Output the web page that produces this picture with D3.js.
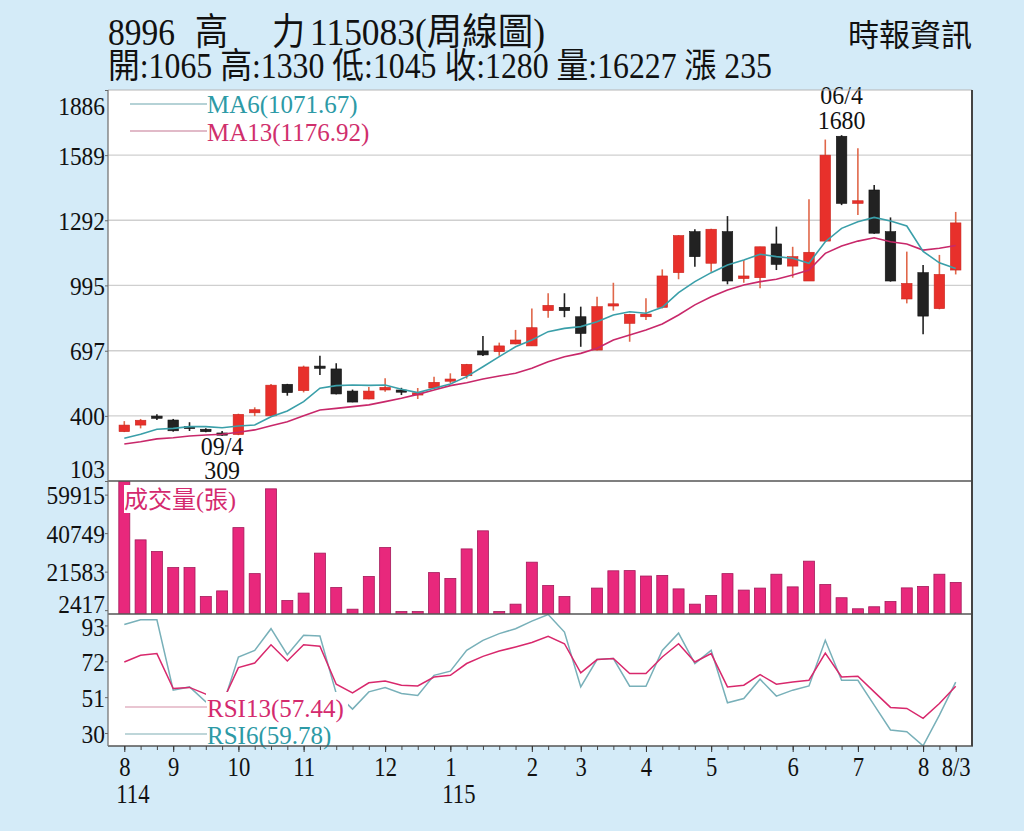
<!DOCTYPE html>
<html>
<head>
<meta charset="utf-8">
<script src="https://cdn.jsdelivr.net/npm/d3@7"></script>
<style>
  html, body { margin: 0; padding: 0; background: #d4ebf8; }
  svg { display: block; }
  text { font-family: "Liberation Serif", "Noto Sans CJK TC", serif; }
</style>
</head>
<body>
<svg id="chart" width="1024" height="831"></svg>
<script>
// weekly OHLC, 114/08 .. 115/08/3
const opens  = [328,358,399,381,352,339,322,315,414,400,544,515,627,614,513,477,518,518,500,527,563,583,696,693,728,719,880,895,852,700,905,822,852,895,1053,1240,1096,1240,1026,1030,1184,1083,1015,1197,1675,1369,1430,1240,933,1053,889,1065];
const highs  = [376,386,407,386,371,343,331,410,439,545,546,629,674,640,520,532,571,528,527,578,594,637,764,734,792,890,959,959,898,943,1007,865,936,1068,1224,1251,1253,1311,1111,1171,1263,1171,1388,1660,1680,1620,1453,1305,1149,1088,1134,1330];
const lows   = [326,343,381,328,331,325,309,312,399,399,492,507,586,498,462,476,510,495,477,522,549,570,673,674,726,719,848,850,715,698,880,738,837,890,1023,1080,1057,1000,1007,982,1065,1030,1015,1195,1361,1316,1230,1012,913,772,886,1045];
const closes = [358,380,390,332,350,328,313,407,428,540,506,623,622,500,463,513,530,512,505,553,568,635,678,719,746,802,904,880,776,898,911,863,864,1038,1222,1126,1251,1015,1038,1171,1091,1126,1146,1589,1369,1381,1233,1015,1004,855,1045,1280];

const ma6  = [298,316,339,343,351,351,346,354,358,396,422,465,526,538,541,539,541,521,506,526,545,579,624,670,715,746,784,799,807,829,860,875,868,895,962,1012,1053,1088,1111,1137,1126,1119,1096,1194,1255,1285,1305,1289,1266,1150,1098,1071.67];
const ma13 = [272,282,295,300,308,313,316,325,336,355,373,401,427,434,442,450,465,480,498,518,538,551,568,582,594,617,647,670,685,708,746,769,792,819,860,906,943,974,997,1012,1023,1042,1065,1141,1175,1197,1212,1194,1184,1156,1164,1176.92];

const volumes = [66700,37400,31600,23600,23600,9200,12000,43500,20600,62800,7200,10900,30800,13700,2900,19200,33600,1700,1700,21100,18200,32900,41900,1700,5400,26300,14700,9200,0,13400,22000,22100,19400,19700,13000,5400,9700,20600,12400,13400,20300,14000,26800,15200,8600,3100,4100,6700,13500,14200,20300,16227];

const rsi6  = [93.6,96.3,96.3,55.1,57.0,48.3,45.0,74.5,78.4,91.1,75.9,87.2,86.8,53.2,44.0,54.1,56.7,53.2,52.0,63.8,66.2,78.4,84.3,88.2,91.1,95.5,99.4,89.1,57.0,73.0,73.6,57.4,57.4,78.4,88.5,70.7,78.4,47.7,50.2,61.5,51.6,55.1,57.6,84.3,60.9,60.9,46.3,31.8,30.8,22.5,40.5,59.78];
const rsi13 = [71.6,75.5,76.5,56.1,56.7,52.8,47.7,68.3,71.0,81.7,72.2,81.7,80.8,58.6,53.5,59.4,60.5,58.0,57.6,62.8,63.8,70.7,74.9,78.0,80.4,83.0,86.6,82.3,65.2,73.0,73.6,64.8,64.8,74.5,82.3,71.6,76.5,57.0,58.0,64.2,58.6,59.9,60.9,76.8,62.8,63.2,54.1,45.0,44.4,38.6,47.3,57.44];

const priceTicks = [103,400,697,995,1292,1589,1886];
const volumeTicks = [2417,21583,40749,59915];
const rsiTicks = [30,51,72,93];
const monthIdx = [0,3,7,11,16,20,25,28,32,36,41,45,49,51];
const monthLabels = ['8','9','10','11','12','1','2','3','4','5','6','7','8','8/3'];
const yearIdx = [0,20];
const yearLabels = ['114','115'];

const left = 108, right = 972;
const priceTop = 90, priceBottom = 481, volBottom = 614, rsiBottom = 746;

const red = '#e8302b', black = '#222', volColor = '#e8287c';
const teal = '#3a9fa9', magenta = '#c8286a';

const svg = d3.select('#chart');
const idx = closes.map((_, i) => i);

const x = d3.scalePoint().domain(idx).range([left, right]).padding(1);
const yPrice = d3.scaleLinear().domain([103, 1886]).range([priceBottom, priceTop]);
const yVol = d3.scaleLinear().domain([0, d3.max(volumes)]).range([volBottom + 1, priceBottom]);
const yRsi = d3.scaleLinear().domain([22.4, 99.7]).range([rsiBottom, volBottom]);

function label(parent, px, py, str, size, anchor, fill, sx = 0.86) {
  return parent.append('text')
    .attr('transform', `translate(${px},${py}) scale(${sx},1)`)
    .attr('text-anchor', anchor)
    .attr('font-size', size)
    .attr('fill', fill)
    .text(str);
}

// header, first line in pieces so the wide gaps of the name survive
const title = [
  { t: '8996', x0: 108, w: 67 },
  { t: '高', x0: 195, w: 33 },
  { t: '力', x0: 272, w: 33 },
  { t: '115083(周線圖)', x0: 310, w: 235 }
];
title.forEach((p) => {
  svg.append('text').attr('x', p.x0).attr('y', 45).attr('font-size', 37)
    .attr('textLength', p.w).attr('lengthAdjust', 'spacingAndGlyphs').attr('fill', '#111')
    .text(p.t);
});
svg.append('text').attr('x', 108).attr('y', 78).attr('font-size', 35)
  .attr('textLength', 664).attr('lengthAdjust', 'spacingAndGlyphs').attr('fill', '#111')
  .text('開:1065 高:1330 低:1045 收:1280 量:16227 漲 235');
svg.append('text').attr('x', 972).attr('y', 46).attr('font-size', 31).attr('text-anchor', 'end')
  .attr('font-family', '"Noto Sans CJK TC"').attr('fill', '#111')
  .text('時報資訊');

// panel
svg.append('rect').attr('x', left).attr('y', priceTop).attr('width', right - left)
  .attr('height', rsiBottom - priceTop).attr('fill', '#fff');

const defs = svg.append('defs');
defs.append('clipPath').attr('id', 'clipPrice').append('rect')
  .attr('x', left).attr('y', priceTop).attr('width', right - left).attr('height', priceBottom - priceTop);
defs.append('clipPath').attr('id', 'clipVol').append('rect')
  .attr('x', left).attr('y', priceBottom).attr('width', right - left).attr('height', volBottom - priceBottom);
defs.append('clipPath').attr('id', 'clipRsi').append('rect')
  .attr('x', left).attr('y', volBottom).attr('width', right - left).attr('height', rsiBottom - volBottom);

// grid
svg.append('g').selectAll('line')
  .data(priceTicks.filter((t) => t > 103 && t < 1886))
  .join('line')
  .attr('x1', left).attr('x2', right)
  .attr('y1', (d) => yPrice(d)).attr('y2', (d) => yPrice(d))
  .attr('stroke', '#cfcfcf').attr('stroke-width', 1.3);

// candles
const gC = svg.append('g').attr('clip-path', 'url(#clipPrice)');
const up = (i) => closes[i] >= opens[i];
gC.selectAll('line.wick').data(idx).join('line').attr('class', 'wick')
  .attr('x1', (i) => x(i)).attr('x2', (i) => x(i))
  .attr('y1', (i) => yPrice(highs[i])).attr('y2', (i) => yPrice(lows[i]))
  .attr('stroke', (i) => up(i) ? '#e0674a' : black).attr('stroke-width', 1.6);
const bodyW = 10.5;
gC.selectAll('rect.body').data(idx).join('rect').attr('class', 'body')
  .attr('x', (i) => x(i) - bodyW / 2).attr('width', bodyW)
  .attr('y', (i) => yPrice(Math.max(opens[i], closes[i])))
  .attr('height', (i) => Math.max(2.2, Math.abs(yPrice(opens[i]) - yPrice(closes[i]))))
  .attr('fill', (i) => up(i) ? red : black)
  .attr('stroke', (i) => up(i) ? '#c8261f' : '#111').attr('stroke-width', 0.6);

// moving averages
const linePrice = (arr) => d3.line().x((d, i) => x(i)).y((d) => yPrice(d))(arr);
gC.append('path').attr('d', linePrice(ma13)).attr('fill', 'none').attr('stroke', magenta).attr('stroke-width', 1.6);
gC.append('path').attr('d', linePrice(ma6)).attr('fill', 'none').attr('stroke', teal).attr('stroke-width', 1.6);

// MA legend
svg.append('line').attr('x1', 130).attr('x2', 207).attr('y1', 104).attr('y2', 104).attr('stroke', '#9cc3c8').attr('stroke-width', 1.3);
svg.append('line').attr('x1', 130).attr('x2', 207).attr('y1', 131).attr('y2', 131).attr('stroke', '#d7a3b6').attr('stroke-width', 1.3);
label(svg, 207, 113, 'MA6(1071.67)', 25, 'start', '#2d9aa6', 1);
label(svg, 207, 141, 'MA13(1176.92)', 25, 'start', '#d02f6c', 1);

// high / low annotations
label(svg, x(6), 455, '09/4', 26, 'middle', '#111', 0.92);
label(svg, x(6), 479, '309', 26, 'middle', '#111', 0.92);
label(svg, x(44), 104, '06/4', 26, 'middle', '#111', 0.92);
label(svg, x(44), 129, '1680', 26, 'middle', '#111', 0.92);

// volume bars
const gV = svg.append('g').attr('clip-path', 'url(#clipVol)');
gV.selectAll('rect').data(idx.filter((i) => volumes[i] > 0)).join('rect')
  .attr('x', (i) => x(i) - 5.5).attr('width', 11)
  .attr('y', (i) => yVol(volumes[i]))
  .attr('height', (i) => yVol(0) - yVol(volumes[i]))
  .attr('fill', volColor).attr('stroke', '#a4195a').attr('stroke-width', 0.8);
svg.append('rect').attr('x', 124).attr('y', 485).attr('width', 122).attr('height', 28).attr('fill', '#fff');
svg.append('text').attr('x', 124).attr('y', 508).attr('font-size', 24).attr('fill', '#d42a6e')
  .attr('font-family', '"Noto Sans CJK TC"').text('成交量(張)');

// RSI lines
const gR = svg.append('g').attr('clip-path', 'url(#clipRsi)');
const lineRsi = (arr) => d3.line().x((d, i) => x(i)).y((d) => yRsi(d))(arr);
gR.append('path').attr('d', lineRsi(rsi6)).attr('fill', 'none').attr('stroke', '#78b0b9').attr('stroke-width', 1.5);
gR.append('path').attr('d', lineRsi(rsi13)).attr('fill', 'none').attr('stroke', '#d8286c').attr('stroke-width', 1.5);
svg.append('rect').attr('x', 206).attr('y', 692).attr('width', 142).attr('height', rsiBottom - 692).attr('fill', '#fff');
svg.append('line').attr('x1', 125).attr('x2', 207).attr('y1', 707).attr('y2', 707).attr('stroke', '#e2b3c3').attr('stroke-width', 1.3);
svg.append('line').attr('x1', 125).attr('x2', 207).attr('y1', 734).attr('y2', 734).attr('stroke', '#a9c9cd').attr('stroke-width', 1.3);
label(svg, 207, 717, 'RSI13(57.44)', 25, 'start', '#d42a6e', 1);
label(svg, 207, 744, 'RSI6(59.78)', 25, 'start', '#2d9aa6', 1);

// frame
const frame = svg.append('g').attr('fill', 'none');
frame.append('line').attr('x1', left).attr('x2', right).attr('y1', priceTop).attr('y2', priceTop).attr('stroke', '#b5b5b5').attr('stroke-width', 1.2);
[priceBottom, volBottom].forEach((yy) => {
  frame.append('line').attr('x1', left).attr('x2', right).attr('y1', yy).attr('y2', yy).attr('stroke', '#555').attr('stroke-width', 1.6);
});
frame.append('line').attr('x1', left).attr('x2', right + 1).attr('y1', rsiBottom).attr('y2', rsiBottom).attr('stroke', '#555').attr('stroke-width', 1.6);
frame.append('line').attr('x1', left).attr('x2', left).attr('y1', priceTop).attr('y2', rsiBottom).attr('stroke', '#777').attr('stroke-width', 1.3);
frame.append('line').attr('x1', right).attr('x2', right).attr('y1', priceTop).attr('y2', rsiBottom).attr('stroke', '#444').attr('stroke-width', 2);

// left axes
function styleLeftAxis(g, shift) {
  g.select('.domain').remove();
  g.selectAll('.tick line').attr('stroke', '#666');
  g.selectAll('.tick text')
    .attr('x', null).attr('dy', null)
    .attr('font-size', 26).attr('fill', '#111')
    .attr('font-family', '"Liberation Serif", serif')
    .attr('text-anchor', 'end')
    .attr('transform', (d) => `translate(-3, ${9 + shift(d)}) scale(0.9,1)`);
}
svg.append('g').attr('transform', `translate(${left},0)`)
  .call(d3.axisLeft(yPrice).tickValues(priceTicks).tickSize(3).tickFormat((d) => d))
  .call((g) => styleLeftAxis(g, (d) => d === 1886 ? 15 : d === 103 ? -13 : 0));
svg.append('g').attr('transform', `translate(${left},0)`)
  .call(d3.axisLeft(yVol).tickValues(volumeTicks).tickSize(3).tickFormat((d) => d))
  .call((g) => styleLeftAxis(g, (d) => d === 2417 ? -7 : 0));
svg.append('g').attr('transform', `translate(${left},0)`)
  .call(d3.axisLeft(yRsi).tickValues(rsiTicks).tickSize(3).tickFormat((d) => d))
  .call((g) => styleLeftAxis(g, (d) => d === 93 ? 1 : 0));

// bottom axis: weekly minor ticks and month labels
const gMinor = svg.append('g').attr('transform', `translate(0,${rsiBottom})`)
  .call(d3.axisBottom(x).tickValues(idx).tickSize(4).tickFormat(''));
gMinor.select('.domain').remove();
gMinor.selectAll('.tick line').attr('stroke', '#444');

const gMonth = svg.append('g').attr('transform', `translate(0,${rsiBottom})`)
  .call(d3.axisBottom(x).tickValues(monthIdx).tickSize(6).tickFormat((d) => monthLabels[monthIdx.indexOf(d)]));
gMonth.select('.domain').remove();
gMonth.selectAll('.tick line').attr('stroke', '#333');
gMonth.selectAll('.tick text')
  .attr('y', null).attr('dy', null)
  .attr('font-size', 27).attr('fill', '#111')
  .attr('font-family', '"Liberation Serif", serif')
  .attr('transform', 'translate(0,30) scale(0.84,1)');

yearIdx.forEach((d, k) => {
  label(svg, x(d) - 8, 803, yearLabels[k], 27, 'start', '#111', 0.84);
});
</script>
</body>
</html>
